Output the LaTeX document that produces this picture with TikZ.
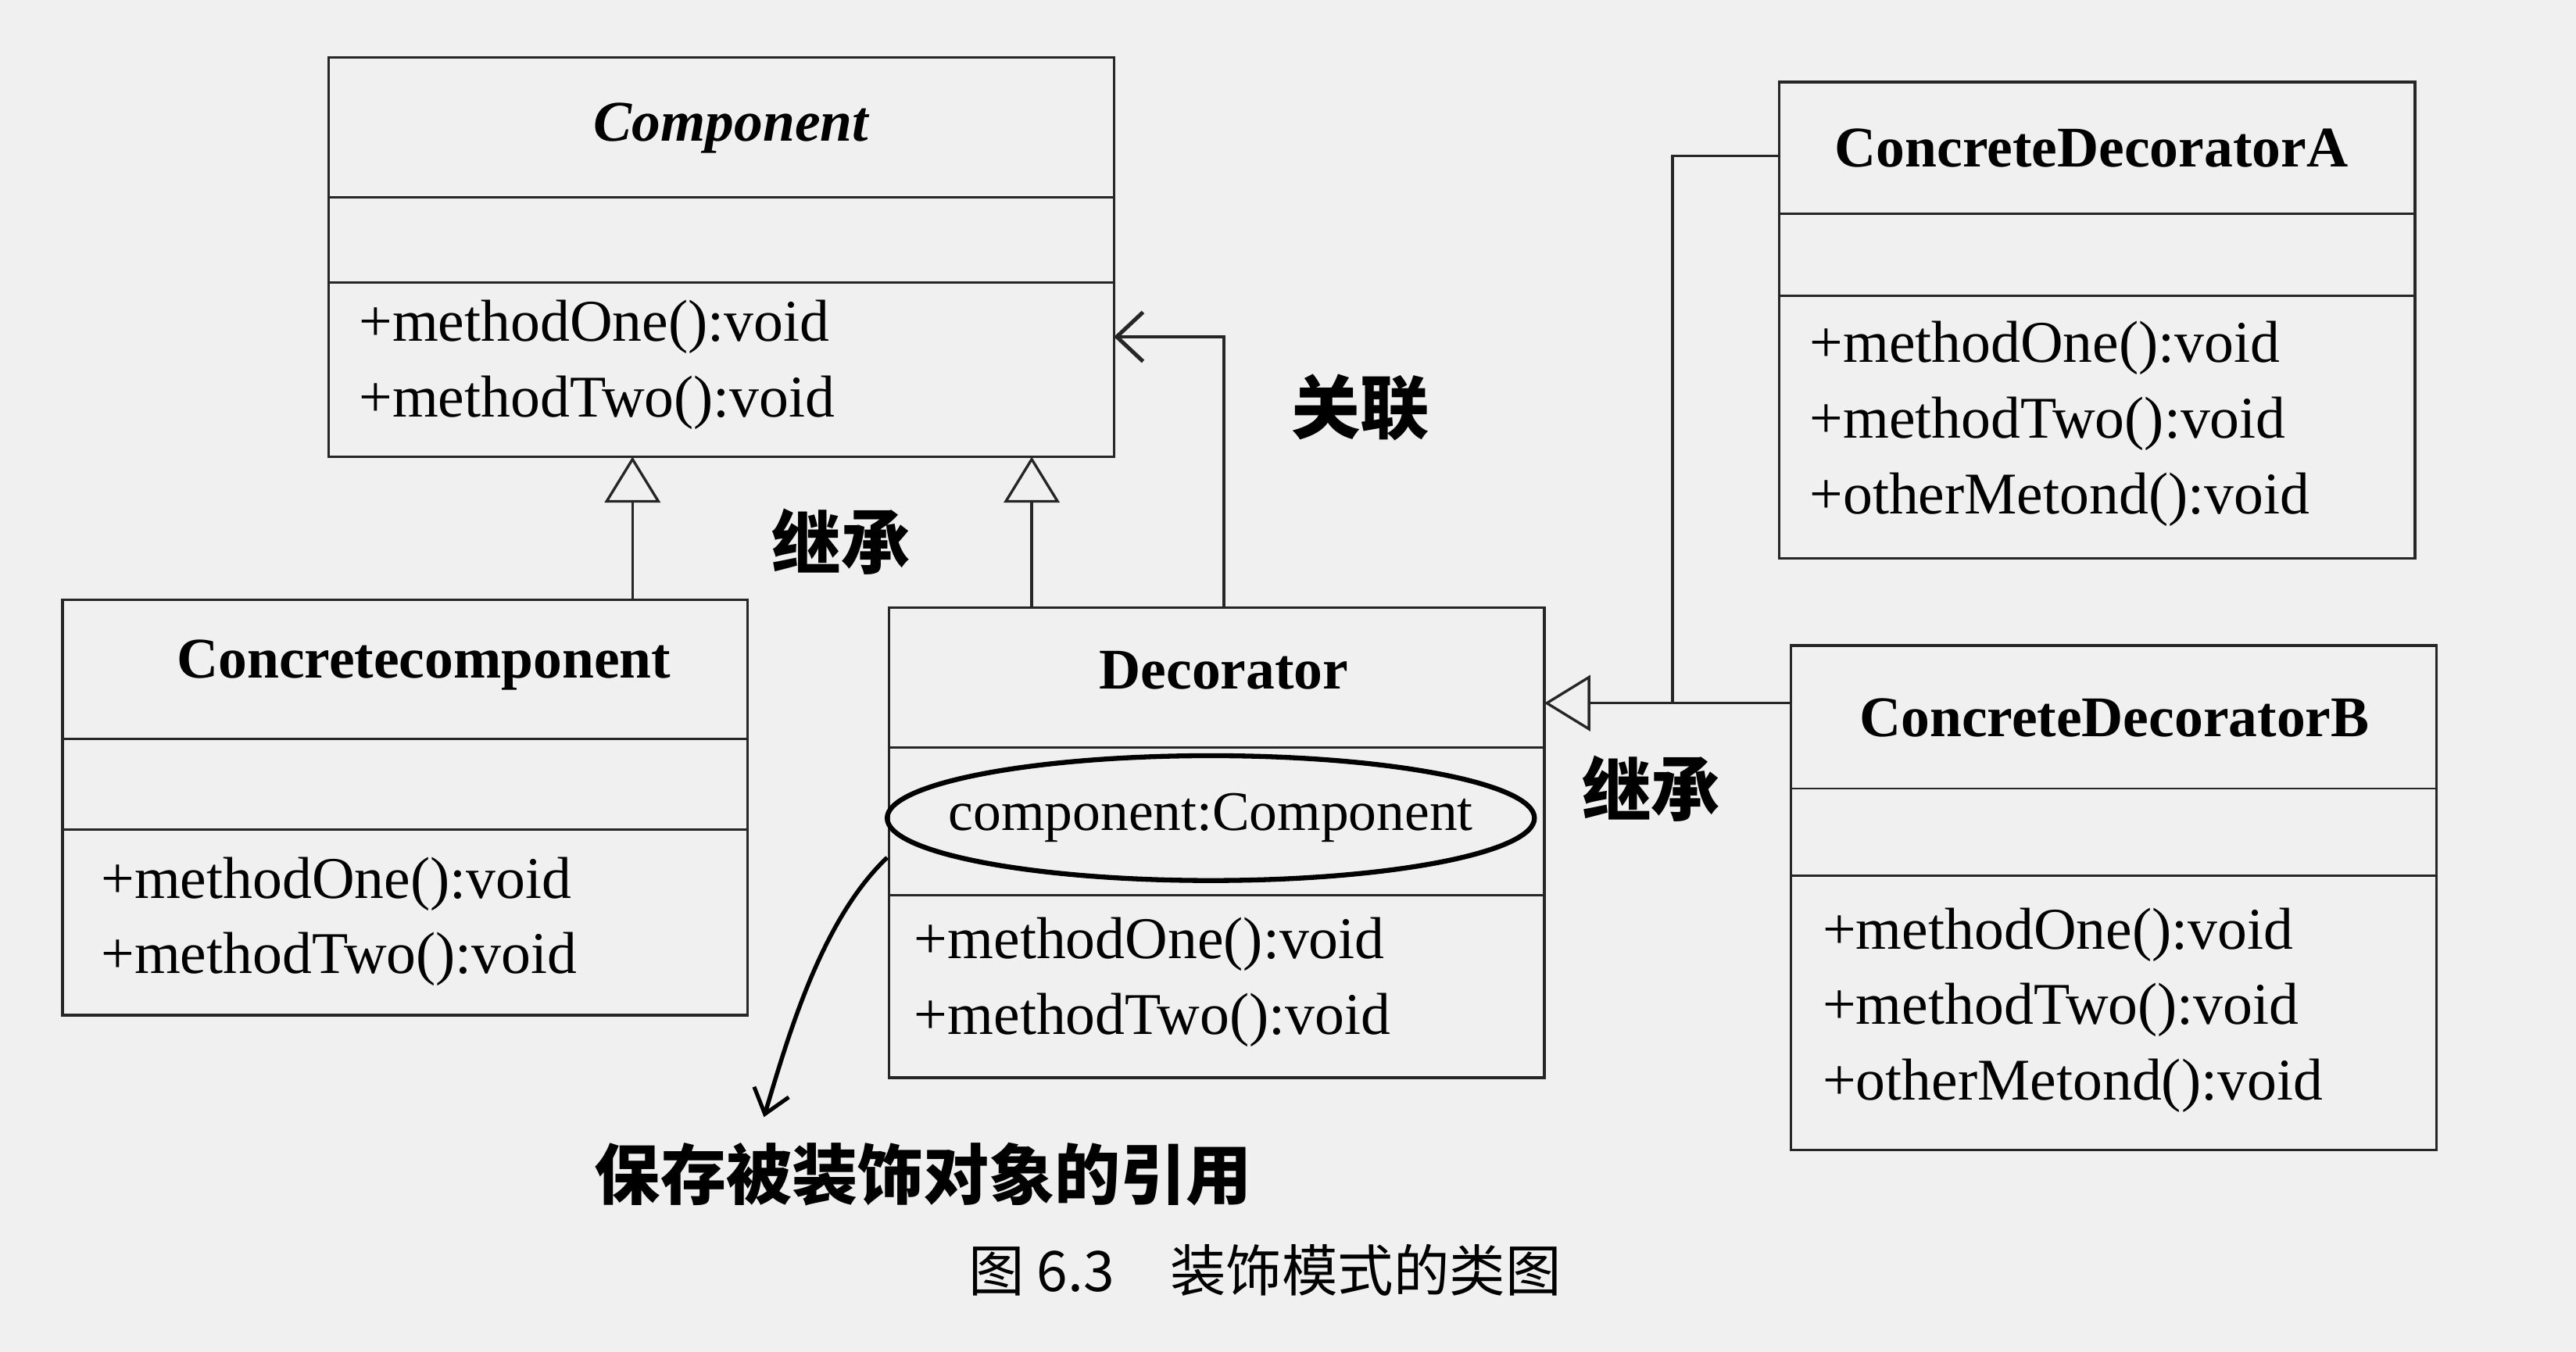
\documentclass[tikz,border=0pt]{standalone}
\usepackage{fontspec}
\setmainfont{Liberation Serif}
\newfontfamily\cjk{Noto Sans CJK SC}
\usetikzlibrary{arrows.meta}
\begin{document}
\begin{tikzpicture}[x=1pt,y=-1pt,
  cls/.style={draw=black!85,line width=1.6pt},
  sep/.style={draw=black!85,line width=1.4pt},
  ttl/.style={font=\fontsize{35}{37}\selectfont\bfseries},
  mth/.style={font=\fontsize{36}{46}\selectfont,align=left,anchor=west},
  inh/.style={draw=black!85,line width=1.6pt,-{Triangle[open,width=34pt,length=28pt]}},
  hand/.style={font=\cjk\fontsize{42}{44}\selectfont\bfseries}]
\fill[black!6] (0,0) rectangle (1568,823);
\useasboundingbox (0,0) rectangle (1568,823);
% Component
\draw[cls] (200,35) rectangle (678,278);
\draw[sep] (200,120) -- (678,120); \draw[sep] (200,172) -- (678,172);
\node[ttl,font=\fontsize{35}{37}\selectfont\bfseries\itshape] (comp) at (445,78) {Component};
\node[mth] (compm) at (215,222) {+methodOne():void\\+methodTwo():void};
\coordinate (compL) at (385,278); \coordinate (compR) at (628,278); \coordinate (compA) at (678,205);
% Concretecomponent
\draw[cls] (38,365) rectangle (455,618);
\draw[sep] (38,450) -- (455,450); \draw[sep] (38,505) -- (455,505);
\node[ttl] (cc) at (258,405) {Concretecomponent};
\node[mth] (ccm) at (58,561) {+methodOne():void\\+methodTwo():void};
\coordinate (ccT) at (385,365);
% Decorator
\draw[cls] (541,370) rectangle (940,656);
\draw[sep] (541,455) -- (940,455); \draw[sep] (541,545) -- (940,545);
\node[ttl] (dec) at (745,408) {Decorator};
\node[font=\fontsize{34}{36}\selectfont] (attr) at (737,498) {component:Component};
\draw[line width=3pt] (attr) ellipse (197pt and 38pt);
\node[mth] (decm) at (553,598) {+methodOne():void\\+methodTwo():void};
\coordinate (decT1) at (628,370); \coordinate (decT2) at (745,370); \coordinate (decR) at (940,428);
% CDA
\draw[cls] (1083,50) rectangle (1470,340);
\draw[sep] (1083,130) -- (1470,130); \draw[sep] (1083,180) -- (1470,180);
\node[ttl] (cda) at (1273,90) {ConcreteDecoratorA};
\node[mth] (cdam) at (1098,258) {+methodOne():void\\+methodTwo():void\\+otherMetond():void};
\coordinate (cdaL) at (1083,95);
% CDB
\draw[cls] (1090,393) rectangle (1483,700);
\draw[sep] (1090,480) -- (1483,480); \draw[sep] (1090,533) -- (1483,533);
\node[ttl] (cdb) at (1287,437) {ConcreteDecoratorB};
\node[mth] (cdbm) at (1106,615) {+methodOne():void\\+methodTwo():void\\+otherMetond():void};
\coordinate (cdbL) at (1090,428);
% connectors
\draw[inh] (ccT) -- (compL);
\draw[inh] (decT1) -- (compR);
\draw[draw=black!85,line width=1.6pt,-{Straight Barb[width=30pt,length=16pt,line width=2.4pt]}] (decT2) |- (compA);
\coordinate (jn) at (1018,428);
\draw[draw=black!85,line width=1.6pt] (cdaL) -| (jn);
\draw[inh] (cdbL) -- (decR);
% handwritten labels
\node[hand] (l1) at (828,248) {关联};
\node[hand] (l2) at (512,330) {继承};
\node[hand] (l3) at (1005,480) {继承};
\coordinate (ps) at (540,522);
\node[hand,font=\cjk\fontsize{40}{42}\selectfont\bfseries] (note) at (562,715) {保存被装饰对象的引用};
\draw[line width=2.6pt,-{Straight Barb[width=22pt,length=14pt,line width=2.4pt]}] (ps) .. controls (500,560) and (480,630) .. (465,680);
\node[font=\cjk\fontsize{34}{36}\selectfont] (cap) at (770,773) {图 6.3\quad 装饰模式的类图};
\end{tikzpicture}
\end{document}
